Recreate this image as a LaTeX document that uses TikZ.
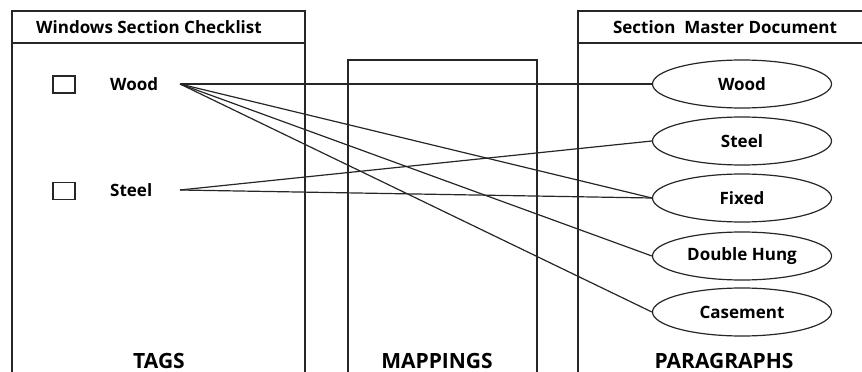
\documentclass[tikz,border=0pt]{standalone}
\usepackage{fontspec}
\setmainfont{Open Sans}[BoldFont={Open Sans Bold}]
\usetikzlibrary{shapes.geometric}
\begin{document}
\begin{tikzpicture}[x=1pt,y=-1pt,
  frame/.style={draw=black!85,line width=1.4pt},
  link/.style={draw=black!85,line width=1.2pt},
  chk/.style={draw=black!85,line width=1.1pt,minimum width=22pt,minimum height=17pt,inner sep=0pt},
  para/.style={ellipse,draw=black!85,line width=1.2pt,minimum width=179pt,minimum height=48pt,inner sep=0pt,font=\fontsize{17}{19}\selectfont\bfseries},
  tag/.style={inner sep=0pt,anchor=west,font=\fontsize{17}{19}\selectfont\bfseries},
  head/.style={inner sep=0pt,font=\fontsize{17}{19}\selectfont\bfseries},
  big/.style={inner sep=0pt,font=\fontsize{21}{23}\selectfont\bfseries}]
\useasboundingbox (0,0) rectangle (862,372);
\begin{scope}
\clip (0,0) rectangle (862,372);
% left box
\draw[frame] (12,400) -- (12,11) -- (305,11) -- (305,400);
\draw[frame] (12,43) -- (305,43);
% mappings box
\draw[frame] (348,400) -- (348,60) -- (537,60) -- (537,400);
% right box
\draw[frame] (578,400) -- (578,11) -- (880,11);
\draw[frame] (578,43) -- (880,43);
\end{scope}
\node[head] (h1) at (149,27) {Windows Section Checklist};
\node[head] (h2) at (725,27) {Section\ \ Master Document};
% tags
\node[chk] (c1) at (64,84.5) {};
\node[chk] (c2) at (64,191) {};
\node[tag] (t1) at (110,84) {Wood};
\node[tag] (t2) at (110,190) {Steel};
\coordinate (w) at (180,84);
\coordinate (s) at (180,190);
% paragraphs
\node[para] (pw) at (742,84) {Wood};
\node[para] (ps) at (742,141) {Steel};
\node[para] (pf) at (742,198) {Fixed};
\node[para] (pd) at (742,256) {Double Hung};
\node[para] (pc) at (742,312) {Casement};
% links
\draw[link] (w) -- (pw.west);
\draw[link] (w) -- (pf.west);
\draw[link] (w) -- (pd.west);
\draw[link] (w) -- (pc.west);
\draw[link] (s) -- (ps.west);
\draw[link] (s) -- (pf.west);
% labels
\node[big] (l1) at (159,361) {TAGS};
\node[big] (l2) at (437,361) {MAPPINGS};
\node[big] (l3) at (724,361) {PARAGRAPHS};
\end{tikzpicture}
\end{document}
